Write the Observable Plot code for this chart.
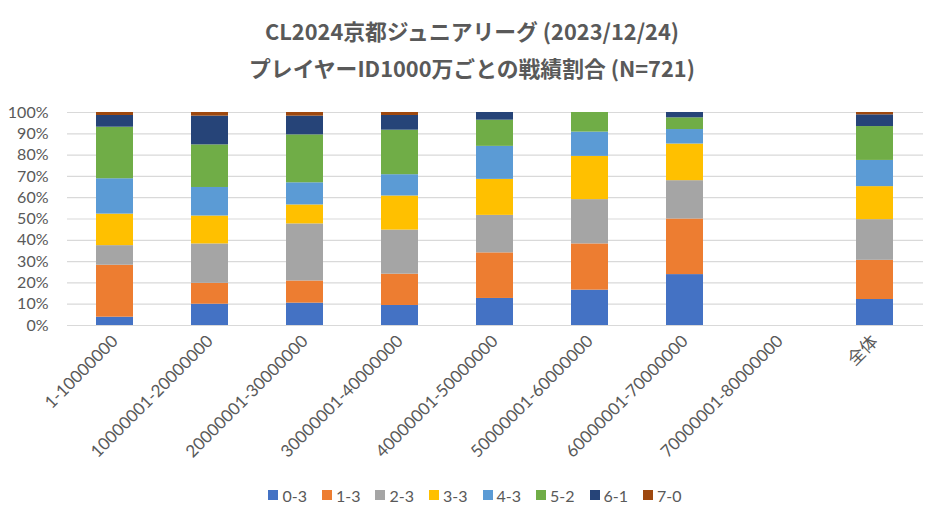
<!DOCTYPE html>
<html>
<head>
<meta charset="utf-8">
<script src="https://cdn.jsdelivr.net/npm/d3@7"></script>
<script src="https://cdn.jsdelivr.net/npm/@observablehq/plot@0.6"></script>
<style>
  html, body { margin: 0; padding: 0; background: #fff; }
  body { width: 944px; height: 523px; overflow: hidden; font-family: Lato, "Noto Sans CJK JP", sans-serif; color: #595959; }
  #title { height: 90px; padding-top: 12px; box-sizing: border-box; text-align: center; font-weight: bold; font-size: 21.8px; line-height: 37px; font-family: "Noto Sans CJK JP", "Noto Sans", sans-serif; }
  #legend { display: flex; justify-content: center; align-items: center; height: 40px; font-size: 16px; margin-left: 6px; }
  .item { display: flex; align-items: center; margin: 0 7.5px; }
  .sw { width: 10px; height: 10px; margin-right: 4px; }
  svg { display: block; }
</style>
</head>
<body>
<div id="title">
  <div>CL2024京都ジュニアリーグ (2023/12/24)</div>
  <div>プレイヤーID1000万ごとの戦績割合 (N=721)</div>
</div>
<div id="chart"></div>
<div id="legend"></div>
<script>
const categories = [
  "1-10000000", "10000001-20000000", "20000001-30000000", "30000001-40000000",
  "40000001-50000000", "50000001-60000000", "60000001-70000000", "70000001-80000000", "全体"
];
const seriesNames = ["0-3", "1-3", "2-3", "3-3", "4-3", "5-2", "6-1", "7-0"];
const seriesColors = ["#4472C4", "#ED7D31", "#A5A5A5", "#FFC000", "#5B9BD5", "#70AD47", "#264478", "#9E480E"];

// percentage of each result per category
const r03 = [3.9, 10.0, 10.5, 9.4, 12.7, 16.6, 23.9, 0, 12.2];
const r13 = [24.4, 9.8, 10.4, 14.7, 21.4, 21.7, 26.1, 0, 18.4];
const r23 = [9.2, 18.5, 26.8, 20.7, 17.6, 20.8, 18.0, 0, 19.1];
const r33 = [14.8, 13.1, 8.9, 16.0, 16.9, 20.3, 17.2, 0, 15.5];
const r43 = [16.6, 13.4, 10.4, 10.0, 15.5, 11.4, 6.8, 0, 12.3];
const r52 = [24.2, 20.0, 22.5, 20.9, 12.3, 9.2, 5.5, 0, 15.9];
const r61 = [5.5, 13.5, 8.8, 6.9, 3.6, 0, 2.5, 0, 5.5];
const r70 = [1.4, 1.7, 1.7, 1.4, 0, 0, 0, 0, 1.1];
const yTicks = [0, 10, 20, 30, 40, 50, 60, 70, 80, 90, 100];

const seriesValues = [r03, r13, r23, r33, r43, r52, r61, r70];
const rows = [];
categories.forEach((c, i) => {
  seriesNames.forEach((s, j) => {
    rows.push({cat: c, series: s, value: seriesValues[j][i]});
  });
});

const chart = Plot.plot({
  width: 944,
  height: 385,
  marginLeft: 67,
  marginRight: 21,
  marginTop: 22,
  marginBottom: 150,
  style: {fontFamily: 'Lato, "Noto Sans CJK JP", sans-serif', color: "#595959", background: "#fff"},
  x: {domain: categories, paddingInner: 0.61, paddingOuter: 0.305, label: null},
  y: {domain: [0, 100], label: null},
  color: {domain: seriesNames, range: seriesColors},
  marks: [
    Plot.gridY(yTicks, {stroke: "#D9D9D9", strokeOpacity: 1, strokeWidth: 1.2}),
    Plot.barY(rows, Plot.stackY({x: "cat", y: "value", fill: "series", insetLeft: 0, insetRight: 0})),
    Plot.axisY(yTicks, {tickSize: 0, tickPadding: 19, fontSize: 16, tickFormat: d => d + "%", label: null}),
    Plot.axisX({tickRotate: -45, tickSize: 0, tickPadding: 13, fontSize: 17, label: null})
  ]
});
document.getElementById("chart").appendChild(chart);

const legend = document.getElementById("legend");
seriesNames.forEach((s, j) => {
  const it = document.createElement("div");
  it.className = "item";
  const sw = document.createElement("div");
  sw.className = "sw";
  sw.style.background = seriesColors[j];
  const lb = document.createElement("span");
  lb.textContent = s;
  it.appendChild(sw);
  it.appendChild(lb);
  legend.appendChild(it);
});
</script>
</body>
</html>
